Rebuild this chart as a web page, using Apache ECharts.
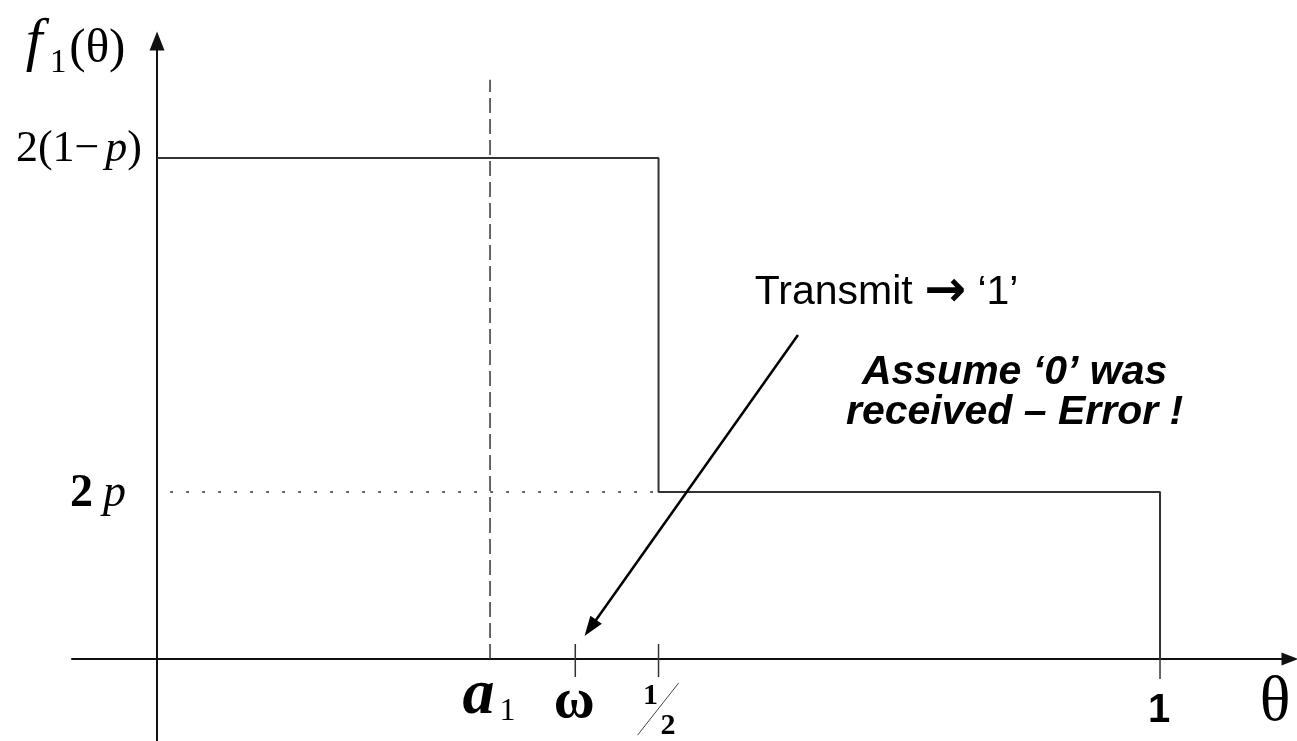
<!DOCTYPE html>
<html>
<head>
<meta charset="utf-8">
<title>f1(θ) step density</title>
<script src="https://cdn.jsdelivr.net/npm/echarts@6/dist/echarts.min.js"></script>
<style>
  html, body { margin: 0; padding: 0; background: #fff; }
  #chart { width: 1297px; height: 741px; }
</style>
</head>
<body>
<div id="chart"></div>
<script>
// ---- data ----
const p = 0.25;                         // crossover probability
const highLevel = 2 * (1 - p);          // 2(1-p) = 1.5
const lowLevel = 2 * p;                 // 2p = 0.5
const stepX = [0, 0.5, 0.5, 1, 1];      // density breakpoints on θ
const stepY = [highLevel, highLevel, lowLevel, lowLevel, 0];
const a1 = 0.332;                       // threshold a1
const omega = 0.417;                    // received value ω
const half = 0.5;
const one = 1;
const noteTransmit = '{t|Transmit }{a|→}{t| ‘1’}';
const noteError = 'Assume ‘0’ was\nreceived – Error !';
// arrow from the note down to ω on the axis
const arrowFrom = [0.639, 0.970];
const arrowTo = [0.432, 0.093];

// ---- layout ----
const X_MIN = -0.0848, X_MAX = 1.1296;
const Y_MIN = -0.2455, Y_MAX = 1.8503;
const SERIF = '"Liberation Serif", "DejaVu Serif", serif';
const SANS = '"Liberation Sans", Arial, sans-serif';
const LINE = '#333';

function textItem(x, y, text, style) {
  return {
    value: [x, y],
    label: Object.assign({
      show: true, position: 'inside', formatter: text, color: '#000', opacity: 1,
      align: 'center', verticalAlign: 'middle'
    }, style)
  };
}

const labels = [
  // y-axis name f1(θ)
  textItem(-0.1225, 1.844, 'f', { fontFamily: SERIF, fontStyle: 'italic', fontSize: 60 }),
  textItem(-0.0985, 1.782, '1', { fontFamily: SERIF, fontSize: 33 }),
  textItem(-0.0595, 1.826, '(θ)', { fontFamily: SERIF, fontSize: 49 }),
  // y tick labels
  textItem(-0.015, highLevel + 0.027, '{n|2(1−}{i|p}{n|)}', {
    align: 'right',
    rich: {
      n: { fontFamily: SERIF, fontSize: 44, color: '#000' },
      i: { fontFamily: SERIF, fontSize: 44, fontStyle: 'italic', color: '#000', padding: [0, 0, 0, 6] }
    }
  }),
  textItem(-0.031, lowLevel - 0.006, '{n|2}{i|p}', {
    align: 'right',
    rich: {
      n: { fontFamily: SERIF, fontSize: 46, fontWeight: 'bold', color: '#000' },
      i: { fontFamily: SERIF, fontSize: 46, fontStyle: 'italic', color: '#000', padding: [0, 0, 0, 10] }
    }
  }),
  // x tick labels
  textItem(a1 - 0.0115, -0.112, 'a', { fontFamily: SERIF, fontStyle: 'italic', fontWeight: 'bold', fontSize: 64 }),
  textItem(a1 + 0.0175, -0.158, '1', { fontFamily: SERIF, fontSize: 32 }),
  textItem(omega - 0.001, -0.129, 'ω', { fontFamily: SERIF, fontWeight: 'bold', fontSize: 56 }),
  textItem(half - 0.008, -0.111, '1', { fontFamily: SERIF, fontWeight: 'bold', fontSize: 30 }),
  textItem(half + 0.0095, -0.201, '2', { fontFamily: SERIF, fontWeight: 'bold', fontSize: 30 }),
  textItem(one - 0.001, -0.156, '1', { fontFamily: SANS, fontWeight: 'bold', fontSize: 40 }),
  // x-axis name θ
  textItem(1.1147, -0.132, 'θ', { fontFamily: SERIF, fontSize: 64 }),
  // notes
  textItem(0.596, 1.096, noteTransmit, {
    align: 'left',
    rich: {
      t: { fontFamily: SANS, fontSize: 41, color: '#000' },
      a: { fontFamily: '"DejaVu Sans", sans-serif', fontSize: 50, fontWeight: 'bold', color: '#000' }
    }
  }),
  textItem(0.855, 0.796, noteError, { fontFamily: SANS, fontSize: 41, fontWeight: 'bold', fontStyle: 'italic', lineHeight: 40 })
];

const chart = echarts.init(document.getElementById('chart'), null, { renderer: 'canvas' });

chart.setOption({
  animation: false,
  backgroundColor: '#fff',
  grid: { left: 72, right: 7, top: 41, bottom: 0, containLabel: false },
  xAxis: {
    type: 'value', min: X_MIN, max: X_MAX,
    axisLine: { show: true, onZero: true, symbol: ['none', 'triangle'], symbolSize: [13, 17],
      lineStyle: { color: '#111', width: 2 } },
    axisTick: { show: false }, axisLabel: { show: false }, splitLine: { show: false }
  },
  yAxis: {
    type: 'value', min: Y_MIN, max: Y_MAX,
    axisLine: { show: true, onZero: true, symbol: ['none', 'triangle'], symbolSize: [15, 19],
      lineStyle: { color: '#111', width: 2 } },
    axisTick: { show: false }, axisLabel: { show: false }, splitLine: { show: false }
  },
  series: [
    {
      // step density f1(θ)
      type: 'line', symbol: 'none', silent: true,
      data: stepX.map((x, i) => [x, stepY[i]]),
      lineStyle: { color: LINE, width: 2 }
    },
    {
      // threshold a1
      type: 'line', symbol: 'none', silent: true,
      data: [[a1, 0], [a1, 1.734]],
      lineStyle: { color: LINE, width: 1.5, type: [15, 6] }
    },
    {
      // level 2p guide
      type: 'line', symbol: 'none', silent: true,
      data: [[0.013, lowLevel], [half, lowLevel]],
      lineStyle: { color: LINE, width: 1.5, type: [3, 13] }
    },
    {
      // ticks at ω, ½ and 1
      type: 'line', symbol: 'none', silent: true, connectNulls: false,
      data: [[omega, 0.045], [omega, -0.054], null, [half, 0.045], [half, -0.054], null, [one, 0], [one, -0.06]],
      lineStyle: { color: LINE, width: 1.5 }
    },
    {
      // fraction bar of ½
      type: 'line', symbol: 'none', silent: true,
      data: [[0.5200, -0.072], [0.4791, -0.228]],
      lineStyle: { color: '#444', width: 1 }
    },
    {
      // pointer from the note to ω
      type: 'line', symbol: 'none', silent: true, data: [],
      markLine: {
        silent: true, animation: false,
        label: { show: false },
        lineStyle: { color: '#000', width: 2.5, type: 'solid' },
        data: [[
          { coord: arrowFrom, symbol: 'none' },
          { coord: arrowTo, symbol: 'triangle', symbolSize: [14, 20] }
        ]]
      }
    },
    {
      type: 'scatter', symbolSize: 0, silent: true, clip: false,
      itemStyle: { opacity: 1 },
      data: labels
    }
  ]
});
</script>
</body>
</html>
